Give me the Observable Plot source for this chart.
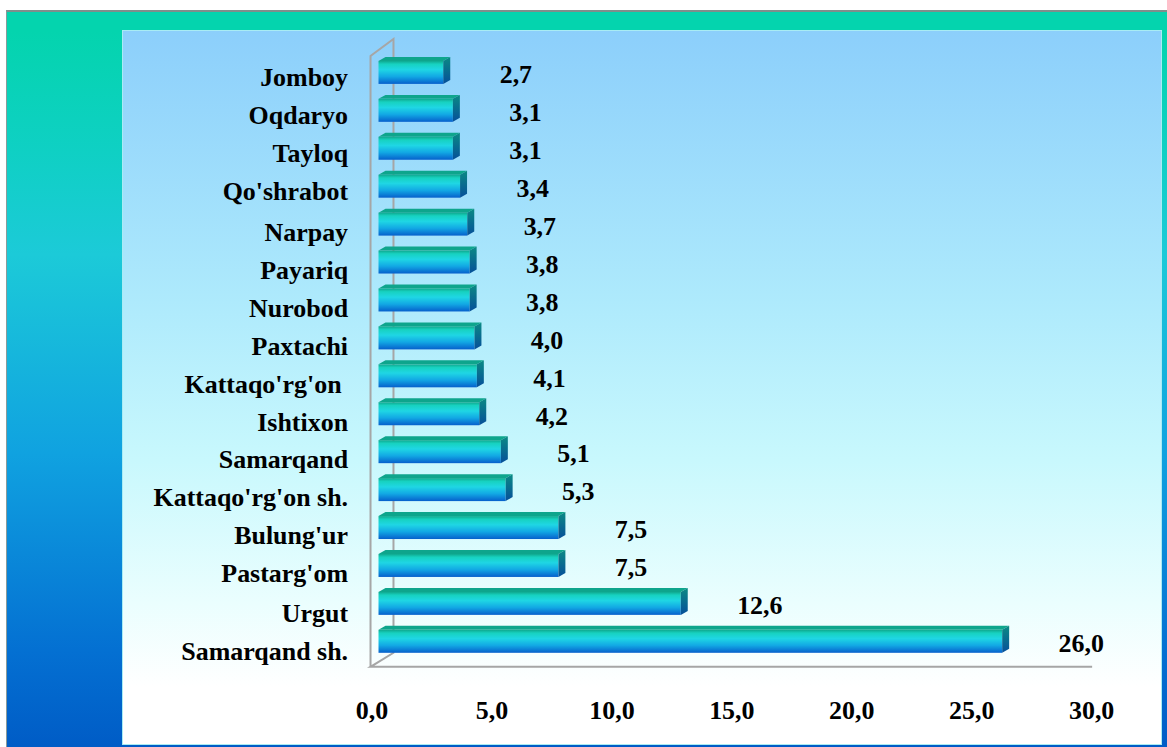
<!DOCTYPE html>
<html>
<head>
<meta charset="utf-8">
<script src="https://cdn.jsdelivr.net/npm/d3@7"></script>
<script src="https://cdn.jsdelivr.net/npm/@observablehq/plot@0.6"></script>
<style>
  html, body { margin: 0; padding: 0; background: #fff; }
  #page { position: relative; width: 1167px; height: 747px; overflow: hidden; background: #fff; }
  #outer {
    position: absolute; left: 6px; top: 10px; width: 1161px; height: 737px; box-sizing: border-box;
    border-top: 2px solid #7f8f8c; border-left: 1px solid #8a9a9a;
    background: linear-gradient(to bottom, #04d4ae 0%, #04d4ae 2.7%, #0fd0c4 19%, #1ccad8 33%, #10a2e0 60%, #0470d2 87%, #005cc6 100%);
  }
  #panel {
    position: absolute; left: 115px; top: 18px; width: 1040px; height: 715px; box-sizing: border-box;
    border: 1px solid #a8ecf4;
    background: linear-gradient(to bottom, #8ccffb 0%, #aeeafc 38%, #c8f8fd 60%, #eafefe 80%, #ffffff 92%);
  }
  #panel svg { position: absolute; left: 0; top: 0; }
</style>
</head>
<body>
<svg width="0" height="0" style="position:absolute">
  <defs>
    <linearGradient id="barFront" x1="0" y1="0" x2="0" y2="1">
      <stop offset="0%" stop-color="#0fa88e"/>
      <stop offset="14%" stop-color="#17d2c0"/>
      <stop offset="38%" stop-color="#1fd6e4"/>
      <stop offset="68%" stop-color="#12a8e4"/>
      <stop offset="100%" stop-color="#0660cc"/>
    </linearGradient>
    <linearGradient id="barSide" x1="0" y1="0" x2="0" y2="1">
      <stop offset="0%" stop-color="#0b8a84"/>
      <stop offset="100%" stop-color="#064f9a"/>
    </linearGradient>
  </defs>
</svg>
<div id="page">
  <div id="outer">
    <div id="panel"></div>
  </div>
</div>
<script>
const categories = ["Jomboy", "Oqdaryo", "Tayloq", "Qo'shrabot", "Narpay", "Payariq", "Nurobod", "Paxtachi",
  "Kattaqo'rg'on ", "Ishtixon", "Samarqand", "Kattaqo'rg'on sh.", "Bulung'ur", "Pastarg'om", "Urgut", "Samarqand sh."];
const values = [2.7, 3.1, 3.1, 3.4, 3.7, 3.8, 3.8, 4.0, 4.1, 4.2, 5.1, 5.3, 7.5, 7.5, 12.6, 26.0];
const xTicks = [0, 5, 10, 15, 20, 25, 30];

const data = categories.map((name, i) => ({name, value: values[i]}));
const fmt = v => v.toFixed(1).replace(".", ",");

const plot = Plot.plot({
  width: 1040,
  height: 715,
  marginLeft: 256,
  marginRight: 63,
  marginTop: 14,
  marginBottom: 76,
  style: {
    background: "transparent",
    fontFamily: "'Liberation Serif', 'Times New Roman', serif",
    fontWeight: "bold",
    fontSize: "26px",
    color: "#000",
    overflow: "visible"
  },
  x: {domain: [0, 30], axis: null},
  y: {domain: categories, padding: 0.4, axis: null},
  marks: [
    Plot.barX(data, {x: "value", y: "name", fill: "url(#barFront)"}),
    Plot.text(data, {x: "value", y: "name", text: d => fmt(d.value), textAnchor: "start", dx: 56, dy: 2, fill: "#000"}),
    Plot.axisX({ticks: xTicks, tickSize: 0, tickPadding: 31, dx: -7, tickFormat: fmt, label: null, fill: "#000"}),
    Plot.axisY({ticks: categories.slice(0, 4), tickSize: 0, tickPadding: 31, dy: 5, label: null, fill: "#000"}),
    Plot.axisY({ticks: categories.slice(4, 14), tickSize: 0, tickPadding: 31, dy: 8, label: null, fill: "#000"}),
    Plot.axisY({ticks: categories.slice(14), tickSize: 0, tickPadding: 31, dy: 10, label: null, fill: "#000"})
  ]
});

document.getElementById("panel").appendChild(plot);

// 3D decoration derived from the Plot scales
const sx = plot.scale("x");
const sy = plot.scale("y");
const svg = d3.select(plot);
const x0 = sx.apply(0);
const x30 = sx.apply(30);
const [yTop, yBot] = sy.range;
const bw = sy.bandwidth;

const frame = svg.insert("g", "g").attr("fill", "none").attr("stroke", "#a6a6a6").attr("stroke-width", 2);
const fl = x0 - 8, bl = x0 + 15;
const ft = yTop + 11, bt = yTop - 6;
const fb = yBot - 2, bb = yBot - 16;
frame.append("path").attr("d", `M${fl},${fb}L${fl},${ft}L${bl},${bt}L${bl},${bb}L${fl},${fb}L${x30 - 6},${fb}`);

const faces = svg.append("g");
const ddx = 7, ddy = 4;
for (const d of data) {
  const y = sy.apply(d.name);
  const x1 = sx.apply(d.value);
  faces.append("path")
    .attr("d", `M${x0},${y}L${x1},${y}L${x1 + ddx},${y - ddy}L${x0 + ddx},${y - ddy}Z`)
    .attr("fill", "#0ea58c");
  faces.append("path")
    .attr("d", `M${x1},${y}L${x1 + ddx},${y - ddy}L${x1 + ddx},${y + bw - ddy}L${x1},${y + bw}Z`)
    .attr("fill", "url(#barSide)");
}
</script>
</body>
</html>
